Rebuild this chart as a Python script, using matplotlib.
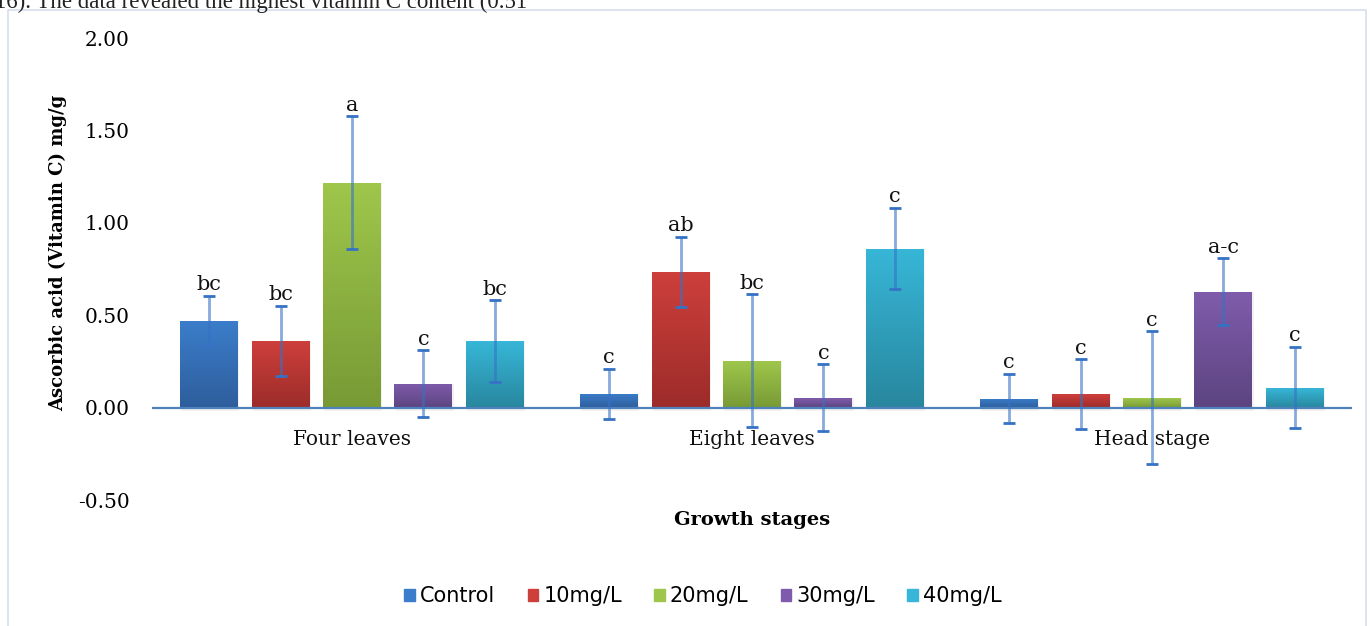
import numpy as np
import matplotlib
matplotlib.use("Agg")
import matplotlib.pyplot as plt
from matplotlib.colors import LinearSegmentedColormap
from matplotlib.patches import Rectangle

# --- data ---
stages = ["Four leaves", "Eight leaves", "Head stage"]
treatments = ["Control", "10mg/L", "20mg/L", "30mg/L", "40mg/L"]

control = [0.47, 0.076, 0.049]
mg10 = [0.36, 0.735, 0.072]
mg20 = [1.216, 0.254, 0.054]
mg30 = [0.13, 0.054, 0.627]
mg40 = [0.36, 0.86, 0.108]
series = [control, mg10, mg20, mg30, mg40]

# one error value per treatment (same in every stage)
errors = [0.135, 0.19, 0.36, 0.18, 0.22]

letters = [
    ["bc", "c", "c"],
    ["bc", "ab", "c"],
    ["a", "bc", "c"],
    ["c", "c", "a-c"],
    ["bc", "c", "c"],
]

# gradient colours (top, bottom) for each treatment
top_colors = ["#3b7dca", "#cd3f3b", "#9ec64b", "#7f5cab", "#37b6d7"]
bottom_colors = ["#2e5e9c", "#9c2c2a", "#789a35", "#5c4480", "#28879e"]

serif = ["DejaVu Serif"]

fig = plt.figure(figsize=(13.7, 6.26), dpi=100)
ax = fig.add_axes([152 / 1370, 1 - 500 / 626, 1200 / 1370, 462 / 626])

# outer chart frame
fig.patches.append(Rectangle((8 / 1370, -0.05), 1358 / 1370, 1.05 - 10 / 626,
                             transform=fig.transFigure, fill=False,
                             edgecolor="#d5dfec", linewidth=1.2))

# paragraph text of the page, cut off by the top edge as in the source
fig.text(-0.004, 1 - 8 / 626, "16). The data revealed the highest vitamin C content (0.51",
         family=["Liberation Serif"], fontsize=16.5, va="baseline", ha="left", color="#222222")

x = np.arange(len(stages))
step = 0.1785
width = 0.145

for i, vals in enumerate(series):
    pos = x + (i - 2) * step
    cmap = LinearSegmentedColormap.from_list("g%d" % i, [bottom_colors[i], top_colors[i]])
    bars = ax.bar(pos, vals, width=width, color=top_colors[i], zorder=2, label=treatments[i])
    grad = np.linspace(0, 1, 64).reshape(-1, 1)
    for b in bars:
        bx, bw, bh = b.get_x(), b.get_width(), b.get_height()
        # soft shadow
        ax.add_patch(Rectangle((bx + 0.003, -0.02), bw, bh + 0.02, color="#000000",
                               alpha=0.05, zorder=1.5, linewidth=0))
        im = ax.imshow(grad, extent=[bx, bx + bw, 0, bh], origin="lower",
                       aspect="auto", cmap=cmap, zorder=2.1)
        im.set_clip_path(b)
    eb = ax.errorbar(pos, vals, yerr=errors[i], fmt="none", ecolor="#3672c4",
                     elinewidth=2, capsize=4.5, capthick=2, zorder=4)
    for lc in eb[2]:
        lc.set_alpha(0.6)
    for j, p in enumerate(pos):
        ax.text(p, vals[j] + errors[i] + 0.06, letters[i][j], ha="center", va="center",
                family=serif, fontsize=15, color="#111111", zorder=5)

ax.axhline(0, color="#4f81bd", linewidth=1.6, zorder=3)

ax.set_xlim(-0.5, 2.5)
ax.set_ylim(-0.5, 2.0)
ax.set_yticks(np.arange(-0.5, 2.01, 0.5))
ax.set_yticklabels(["%.2f" % v for v in np.arange(-0.5, 2.01, 0.5)], family=serif, fontsize=14.5)
ax.tick_params(axis="y", length=0, pad=16)
ax.set_xticks([])
for s in ax.spines.values():
    s.set_visible(False)

for k, name in enumerate(stages):
    ax.annotate(name, (x[k], 0), xytext=(0, -23), textcoords="offset points",
                ha="center", va="center", family=serif, fontsize=14.5, color="#111111")

fig.text(58 / 1370, 1 - 253 / 626, "Ascorbic acid (Vitamin C) mg/g", rotation=90,
         ha="center", va="center", family=serif, fontsize=13, fontweight="bold")
fig.text(752 / 1370, 1 - 520 / 626, "Growth stages", ha="center", va="center",
         family=serif, fontsize=14, fontweight="bold")

handles = [Rectangle((0, 0), 1, 1, color=c) for c in top_colors]
fig.legend(handles, treatments, loc="center", bbox_to_anchor=(703 / 1370, 1 - 596 / 626),
           ncol=5, frameon=False, prop={"family": "DejaVu Sans", "size": 15},
           handlelength=0.5, handleheight=0.5, handletextpad=0.25, columnspacing=1.55)

fig.savefig("out.png", dpi=100)
